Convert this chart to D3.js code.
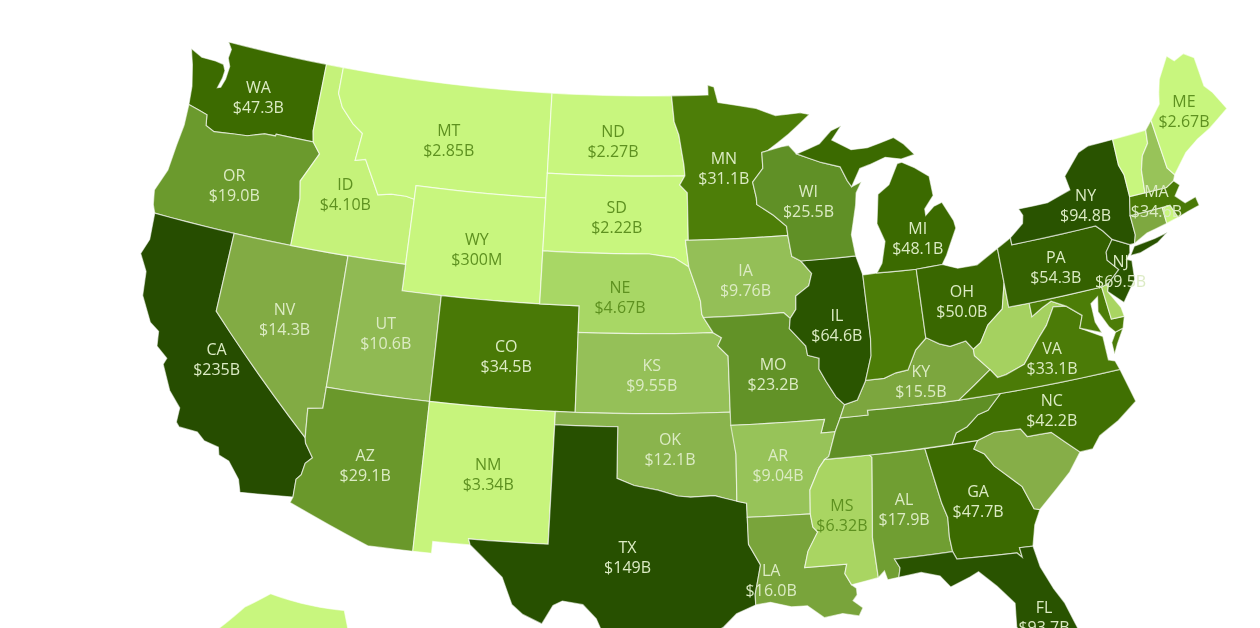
<!DOCTYPE html>
<html>
<head>
<meta charset="utf-8">
<title>US map</title>
<script src="https://cdn.jsdelivr.net/npm/d3@7"></script>
<style>
  html, body { margin: 0; padding: 0; background: #fff; overflow: hidden; }
  svg { filter: blur(0.5px); }
  text { font-family: "Open Sans", sans-serif; font-size: 16px; text-anchor: middle; }
</style>
</head>
<body>
<div id="chart"></div>
<script>
const stateCodes = ["WA","OR","CA","NV","ID","MT","WY","UT","CO","AZ","NM","ND","SD","NE","KS","OK","TX","MN","IA","MO","AR","LA","MS","AL","GA","FL","SC","NC","TN","KY","IL","IN","WI","MI","OH","WV","VA","MD","DE","PA","NJ","NY","CT","RI","MA","VT","NH","ME","AK"];
const stateValues = [47.3,19.0,235,14.3,4.10,2.85,0.30,10.6,34.5,29.1,3.34,2.27,2.22,4.67,9.55,12.1,149,31.1,9.76,23.2,9.04,16.0,6.32,17.9,47.7,93.7,13.5,42.2,25.0,15.5,64.6,32.0,25.5,48.1,50.0,6.8,33.1,32.0,6.0,54.3,69.5,94.8,15.0,3.0,34.6,2.5,9.0,2.67,2.6];
const valueLabels = ["$47.3B","$19.0B","$235B","$14.3B","$4.10B","$2.85B","$300M","$10.6B","$34.5B","$29.1B","$3.34B","$2.27B","$2.22B","$4.67B","$9.55B","$12.1B","$149B","$31.1B","$9.76B","$23.2B","$9.04B","$16.0B","$6.32B","$17.9B","$47.7B","$93.7B","","$42.2B","","$15.5B","$64.6B","","$25.5B","$48.1B","$50.0B","","$33.1B","","","$54.3B","$69.5B","$94.8B","","","$34.6B","","","$2.67B",""];

// colour stops, value in $B
const colorValues = [2.8, 4.2, 4.6, 6.3, 9.5, 14, 19, 25, 29.1, 30.5, 48, 65, 235];
const colorStops = ["#c8f67e","#c5f27a","#a8d765","#a9d562","#95c058","#84ac46","#6b9a2d","#5f8f25","#6a982b","#4e7f08","#3b6a00","#2a5500","#264d00"];

// label shift from the state's centroid
const labelNudge = {
  WA:[0,5], OR:[-1,6], CA:[1,0], NV:[0,3], ID:[-2,3], MT:[0,6], WY:[1,5], UT:[2,1], CO:[0,2], AZ:[0,0],
  NM:[3,-1], ND:[-1,6], SD:[0,3], NE:[-4,6], KS:[0,3], OK:[-1,0], TX:[-4,-3], MN:[-3,4], IA:[-1,5], MO:[0,2],
  AR:[-1,1], LA:[-26,13], MS:[-2,-1], AL:[-2,0], GA:[-3,-1], FL:[24,14], NC:[-6,1], KY:[-2,2], IL:[1,2], WI:[0,-1],
  MI:[21,35], OH:[1,2], VA:[-2,2], PA:[0,3], NY:[-1,4], NJ:[0,3], MA:[-5,1], ME:[1,3]
};

// state outlines in lon/lat
const stateOutlines = {
  WA: [[[-124.7,48.38],[-124.4,47.8],[-124.1,47.0],[-124.0,46.3],[-123.4,46.2],[-122.9,46.1],[-122.8,45.7],[-122.3,45.55],[-121.2,45.65],[-120.5,45.7],[-119.6,45.92],[-119.0,45.93],[-118.98,46.0],[-116.92,46.0],[-117.04,46.4],[-117.03,49.0],[-122.76,49.0],[-122.5,48.75],[-122.55,48.4],[-122.35,48.1],[-122.4,47.6],[-122.55,47.25],[-122.72,47.2],[-122.58,47.6],[-122.55,47.9],[-122.72,48.12],[-123.2,48.17],[-124.0,48.17]]],
  OR: [[[-124.0,46.3],[-123.4,46.2],[-122.9,46.1],[-122.8,45.7],[-122.3,45.55],[-121.2,45.65],[-120.5,45.7],[-119.6,45.92],[-119.0,45.93],[-118.98,46.0],[-116.92,46.0],[-116.46,45.6],[-116.85,45.0],[-117.2,44.45],[-117.03,43.8],[-117.03,42.0],[-124.21,42.0],[-124.4,42.3],[-124.55,42.84],[-124.15,43.7],[-124.06,44.7],[-123.95,45.5]]],
  CA: [[[-124.21,42.0],[-120.0,42.0],[-120.0,39.0],[-114.63,35.0],[-114.57,34.8],[-114.14,34.3],[-114.43,34.05],[-114.52,33.6],[-114.72,33.4],[-114.72,32.72],[-117.12,32.53],[-117.3,33.0],[-117.9,33.6],[-118.4,33.75],[-118.5,34.03],[-119.2,34.15],[-119.6,34.42],[-120.47,34.45],[-120.65,34.6],[-120.65,35.15],[-121.3,35.7],[-121.9,36.6],[-121.8,36.85],[-122.4,37.2],[-122.5,37.75],[-123.0,38.0],[-123.7,38.9],[-123.85,39.8],[-124.35,40.4],[-124.1,41.0]]],
  NV: [[[-120,42],[-114.04,42],[-114.04,36.2],[-114.74,36.1],[-114.63,35.0],[-120,39]]],
  ID: [[[-117.03,49],[-116.05,49],[-116.05,48.0],[-115.7,47.5],[-114.95,46.95],[-114.35,46.65],[-114.5,45.6],[-113.95,45.7],[-113.45,45.05],[-113.0,44.45],[-112.3,44.55],[-111.5,44.55],[-111.05,44.48],[-111.05,42.0],[-117.03,42],[-117.03,43.8],[-117.2,44.45],[-116.85,45.0],[-116.46,45.6],[-116.92,46.0],[-117.04,46.4]]],
  MT: [[[-116.05,49],[-104.05,49],[-104.05,45],[-111.05,45],[-111.05,44.48],[-111.5,44.55],[-112.3,44.55],[-113.0,44.45],[-113.45,45.05],[-113.95,45.7],[-114.5,45.6],[-114.35,46.65],[-114.95,46.95],[-115.7,47.5],[-116.05,48]]],
  WY: [[[-111.05,45],[-104.05,45],[-104.05,41],[-111.05,41]]],
  UT: [[[-114.04,42],[-111.05,42],[-111.05,41],[-109.05,41],[-109.05,37],[-114.04,37]]],
  CO: [[[-109.05,41],[-102.05,41],[-102.05,37],[-109.05,37]]],
  AZ: [[[-114.04,37],[-109.05,37],[-109.05,31.33],[-111.07,31.33],[-114.81,32.5],[-114.72,32.72],[-114.72,33.4],[-114.52,33.6],[-114.43,34.05],[-114.14,34.3],[-114.57,34.8],[-114.63,35.0],[-114.74,36.1],[-114.04,36.2]]],
  NM: [[[-109.05,37],[-103.0,37],[-103.04,32],[-106.62,32],[-106.53,31.78],[-108.21,31.78],[-108.21,31.33],[-109.05,31.33]]],
  ND: [[[-104.05,49],[-97.23,49],[-97.1,48.0],[-96.85,47.5],[-96.6,46.35],[-96.56,45.94],[-104.05,45.94]]],
  SD: [[[-104.05,45.94],[-96.56,45.94],[-96.85,45.6],[-96.45,45.3],[-96.45,43.5],[-96.6,43.5],[-96.45,42.49],[-97.2,42.85],[-98.5,43.0],[-104.05,43]]],
  NE: [[[-104.05,43],[-98.5,43],[-97.2,42.85],[-96.45,42.49],[-96.1,41.7],[-95.9,41.2],[-95.85,40.7],[-95.77,40.58],[-95.31,40],[-102.05,40],[-102.05,41],[-104.05,41]]],
  KS: [[[-102.05,40],[-95.31,40],[-94.9,39.8],[-95.1,39.5],[-94.61,39.1],[-94.62,37],[-102.05,37]]],
  OK: [[[-103.0,37],[-94.62,37],[-94.43,35.4],[-94.48,33.64],[-95.5,33.88],[-96.6,33.85],[-97.2,33.9],[-98.1,34.13],[-99.2,34.3],[-100.0,34.56],[-100.0,36.5],[-103.0,36.5]]],
  TX: [[[-106.62,32],[-103.04,32],[-103.0,36.5],[-100,36.5],[-100,34.56],[-99.2,34.3],[-98.1,34.13],[-97.2,33.9],[-96.6,33.85],[-95.5,33.88],[-94.48,33.64],[-94.04,33.55],[-94.04,33.02],[-94.04,32.0],[-93.55,31.2],[-93.85,30.1],[-93.85,29.7],[-94.7,29.4],[-95.3,28.9],[-96.4,28.4],[-97.1,27.8],[-97.4,27.3],[-97.15,25.96],[-98.2,26.05],[-99.1,26.4],[-99.5,27.5],[-100.3,28.3],[-100.8,29.25],[-101.4,29.77],[-102.3,29.88],[-102.7,29.7],[-103.15,28.98],[-104.0,29.3],[-104.5,29.65],[-105.0,30.65],[-106.0,31.4],[-106.53,31.78]]],
  MN: [[[-97.23,49],[-95.15,49],[-95.15,49.38],[-94.8,49.3],[-94.6,48.7],[-93.5,48.55],[-92.5,48.4],[-91.4,48.07],[-90.0,48.1],[-89.5,48.0],[-90.8,47.3],[-92.0,46.75],[-92.3,46.7],[-92.3,46.1],[-92.9,45.6],[-92.75,45.0],[-92.75,44.75],[-91.9,44.3],[-91.25,43.85],[-91.22,43.5],[-96.45,43.5],[-96.45,45.3],[-96.85,45.6],[-96.56,45.94],[-96.6,46.35],[-96.85,47.5],[-97.1,48.0]]],
  IA: [[[-96.6,43.5],[-91.22,43.5],[-91.1,42.7],[-90.65,42.5],[-90.15,42.0],[-90.35,41.55],[-91.05,41.2],[-91.1,40.7],[-91.42,40.38],[-91.73,40.61],[-95.77,40.58],[-95.85,40.7],[-95.9,41.2],[-96.1,41.7],[-96.45,42.49]]],
  MO: [[[-95.77,40.58],[-91.73,40.61],[-91.42,40.38],[-91.5,40.0],[-90.75,39.3],[-90.7,38.95],[-90.15,38.8],[-90.2,38.4],[-89.9,37.9],[-89.5,37.3],[-89.13,36.98],[-89.4,36.5],[-89.7,36.0],[-90.37,36.0],[-90.15,36.5],[-94.62,36.5],[-94.62,37],[-94.61,39.1],[-95.1,39.5],[-94.9,39.8],[-95.31,40]]],
  AR: [[[-94.62,36.5],[-90.15,36.5],[-90.37,36],[-89.7,36],[-90.1,35.1],[-90.3,35.0],[-90.6,34.7],[-91.1,33.9],[-91.17,33.0],[-94.04,33.02],[-94.04,33.55],[-94.48,33.64],[-94.43,35.4]]],
  LA: [[[-94.04,33.02],[-91.17,33.0],[-91.1,32.5],[-90.9,32.3],[-91.4,31.6],[-91.6,31.0],[-89.73,31.0],[-89.85,30.65],[-89.6,30.2],[-89.4,30.05],[-89.4,29.8],[-89.6,29.6],[-89.2,29.3],[-89.4,29.0],[-90.1,29.15],[-90.9,29.05],[-91.6,29.55],[-92.3,29.55],[-93.2,29.77],[-93.85,29.7],[-93.85,30.1],[-93.55,31.2],[-94.04,32]]],
  MS: [[[-90.3,35.0],[-88.2,35.0],[-88.1,34.9],[-88.47,31.9],[-88.4,30.37],[-89.6,30.2],[-89.85,30.65],[-89.73,31.0],[-91.6,31.0],[-91.4,31.6],[-90.9,32.3],[-91.1,32.5],[-91.17,33],[-91.1,33.9],[-90.6,34.7]]],
  AL: [[[-88.2,35],[-85.6,34.98],[-85.18,32.87],[-85.0,32.3],[-85.05,31.55],[-85.0,31.0],[-87.6,31.0],[-87.4,30.65],[-87.5,30.3],[-88.0,30.25],[-88.1,30.6],[-88.4,30.37],[-88.47,31.9],[-88.1,34.9]]],
  GA: [[[-85.6,34.98],[-83.1,35.0],[-83.35,34.7],[-82.9,34.45],[-82.55,33.95],[-81.9,33.4],[-81.45,33.0],[-81.1,32.1],[-80.85,32.03],[-81.2,31.5],[-81.45,30.72],[-82.05,30.75],[-82.0,30.37],[-82.2,30.57],[-84.86,30.7],[-85.0,31.0],[-85.05,31.55],[-85.0,32.3],[-85.18,32.87]]],
  FL: [[[-87.6,31],[-85.0,31],[-84.86,30.7],[-82.2,30.57],[-82.0,30.37],[-82.05,30.75],[-81.45,30.72],[-81.3,29.9],[-80.9,29.0],[-80.55,28.4],[-80.05,26.9],[-80.15,25.75],[-80.4,25.2],[-81.1,25.15],[-81.75,25.95],[-82.2,26.9],[-82.75,27.8],[-82.65,28.7],[-83.3,29.45],[-84.0,30.1],[-84.4,29.95],[-85.3,29.68],[-85.7,30.15],[-86.5,30.38],[-87.5,30.3],[-87.4,30.65]]],
  SC: [[[-83.1,35],[-82.3,35.2],[-81.05,35.15],[-80.8,34.82],[-79.67,34.8],[-78.55,33.86],[-79.2,33.2],[-79.9,32.7],[-80.85,32.03],[-81.1,32.1],[-81.45,33],[-81.9,33.4],[-82.55,33.95],[-82.9,34.45],[-83.35,34.7]]],
  NC: [[[-81.68,36.59],[-75.87,36.55],[-75.5,35.25],[-76.5,34.7],[-77.5,34.3],[-77.95,33.87],[-78.55,33.86],[-79.67,34.8],[-80.8,34.82],[-81.05,35.15],[-82.3,35.2],[-83.1,35],[-84.32,35],[-84.05,35.4],[-83.5,35.57],[-82.9,35.95],[-82.4,36.05]]],
  TN: [[[-90.3,35],[-84.32,35],[-84.05,35.4],[-83.5,35.57],[-82.9,35.95],[-82.4,36.05],[-81.68,36.59],[-83.68,36.6],[-88.07,36.68],[-88.07,36.5],[-89.4,36.5],[-89.7,36],[-90.1,35.1]]],
  KY: [[[-89.13,36.98],[-88.5,37.1],[-88.0,37.8],[-87.1,37.8],[-86.5,37.95],[-85.9,38.0],[-85.4,38.7],[-84.8,39.1],[-84.2,38.8],[-83.7,38.65],[-82.9,38.75],[-82.6,38.4],[-82.6,38.15],[-81.97,37.54],[-83.68,36.6],[-88.07,36.68],[-88.07,36.5],[-89.4,36.5]]],
  IL: [[[-90.65,42.5],[-87.8,42.49],[-87.55,41.75],[-87.53,39.35],[-87.6,38.7],[-88.0,37.8],[-88.5,37.1],[-89.13,36.98],[-89.5,37.3],[-89.9,37.9],[-90.2,38.4],[-90.15,38.8],[-90.7,38.95],[-90.75,39.3],[-91.5,40],[-91.42,40.38],[-91.1,40.7],[-91.05,41.2],[-90.35,41.55],[-90.15,42]]],
  IN: [[[-87.55,41.75],[-87.2,41.75],[-86.82,41.76],[-84.8,41.7],[-84.82,39.1],[-84.8,39.1],[-85.4,38.7],[-85.9,38],[-86.5,37.95],[-87.1,37.8],[-88,37.8],[-87.6,38.7],[-87.53,39.35]]],
  WI: [[[-92.0,46.75],[-91.2,46.87],[-90.8,46.9],[-90.4,46.55],[-89.1,46.14],[-88.1,45.9],[-87.8,45.35],[-87.6,45.1],[-87.05,45.25],[-87.4,44.85],[-87.5,44.4],[-87.9,43.3],[-87.8,42.49],[-90.65,42.5],[-91.1,42.7],[-91.22,43.5],[-91.25,43.85],[-91.9,44.3],[-92.75,44.75],[-92.75,45],[-92.9,45.6],[-92.3,46.1],[-92.3,46.7]]],
  MI: [
    [[-86.82,41.76],[-86.5,42.1],[-86.2,42.9],[-86.5,43.6],[-86.25,44.7],[-85.6,45.0],[-85.0,45.75],[-84.75,45.78],[-84.1,45.5],[-83.4,45.1],[-83.35,44.35],[-83.9,43.9],[-83.9,43.65],[-83.4,43.95],[-82.95,44.05],[-82.5,43.3],[-82.45,43.0],[-82.9,42.4],[-83.15,42.05],[-83.45,41.73],[-84.8,41.7]],
    [[-90.4,46.55],[-89.1,46.85],[-88.4,47.3],[-87.8,47.45],[-88.4,46.95],[-87.4,46.5],[-86.5,46.5],[-85.0,46.75],[-84.5,46.45],[-84.0,46.0],[-84.75,45.9],[-85.6,46.05],[-86.5,45.85],[-87.05,45.75],[-87.6,45.1],[-87.8,45.35],[-88.1,45.9],[-89.1,46.14]]
  ],
  OH: [[[-84.8,41.7],[-83.45,41.73],[-82.7,41.5],[-81.7,41.5],[-80.52,41.97],[-80.52,40.64],[-80.85,39.7],[-81.7,39.2],[-82.2,38.6],[-82.6,38.4],[-82.9,38.75],[-83.7,38.65],[-84.2,38.8],[-84.8,39.1],[-84.82,39.1]]],
  WV: [[[-80.52,40.64],[-80.52,39.72],[-79.48,39.72],[-79.48,39.2],[-78.9,39.45],[-78.4,39.62],[-77.72,39.32],[-78.35,39.4],[-78.87,38.77],[-79.3,38.42],[-80.3,37.5],[-81.25,37.25],[-81.68,37.2],[-81.97,37.54],[-82.6,38.15],[-82.6,38.4],[-82.2,38.6],[-81.7,39.2],[-80.85,39.7]]],
  VA: [
    [[-83.68,36.6],[-81.97,37.54],[-81.68,37.2],[-81.25,37.25],[-80.3,37.5],[-79.3,38.42],[-78.87,38.77],[-78.35,39.4],[-77.72,39.32],[-77.05,38.85],[-77.3,38.4],[-76.3,37.9],[-76.3,37.0],[-76.0,36.9],[-75.87,36.55],[-81.68,36.59]],
    [[-75.65,37.95],[-75.25,38.03],[-75.7,37.5],[-75.95,37.15],[-75.95,37.6]]
  ],
  MD: [[[-79.48,39.72],[-75.79,39.72],[-75.7,38.46],[-75.05,38.45],[-75.25,38.03],[-75.65,37.95],[-75.9,38.2],[-76.25,38.85],[-76.1,39.4],[-76.5,39.2],[-76.5,38.5],[-76.3,38.05],[-77.3,38.4],[-77.05,38.85],[-77.72,39.32],[-78.4,39.62],[-78.9,39.45],[-79.48,39.2]]],
  DE: [[[-75.79,39.72],[-75.4,39.8],[-75.55,39.5],[-75.1,38.8],[-75.05,38.45],[-75.7,38.46]]],
  PA: [[[-80.52,41.97],[-79.76,42.27],[-79.76,42.0],[-75.35,42.0],[-75.05,41.75],[-74.7,41.36],[-75.15,40.95],[-75.2,40.65],[-74.75,40.2],[-75.4,39.8],[-75.79,39.72],[-80.52,39.72]]],
  NJ: [[[-74.7,41.36],[-73.9,41.0],[-74.0,40.7],[-74.25,40.5],[-74.0,40.4],[-74.1,39.7],[-74.9,38.95],[-75.55,39.5],[-75.4,39.8],[-74.75,40.2],[-75.2,40.65],[-75.15,40.95]]],
  NY: [
    [[-79.76,42.27],[-79.0,42.7],[-78.9,43.0],[-79.05,43.27],[-77.5,43.27],[-76.2,43.55],[-76.3,44.1],[-75.3,44.85],[-74.7,45.0],[-73.35,45.0],[-73.4,44.0],[-73.25,43.6],[-73.27,42.75],[-73.5,42.05],[-73.5,41.3],[-73.65,41.0],[-73.9,41.0],[-74.7,41.36],[-75.05,41.75],[-75.35,42.0],[-79.76,42.0]],
    [[-74.0,40.6],[-73.7,40.9],[-72.6,40.98],[-71.9,41.07],[-72.5,40.8],[-73.5,40.6]]
  ],
  CT: [[[-73.5,42.05],[-71.8,42.02],[-71.8,41.4],[-72.9,41.25],[-73.65,41.0],[-73.5,41.3]]],
  RI: [[[-71.8,42.02],[-71.38,42.02],[-71.15,41.5],[-71.8,41.4]]],
  MA: [[[-73.27,42.75],[-71.3,42.7],[-70.85,42.87],[-70.6,42.65],[-71.0,42.3],[-70.6,41.95],[-70.0,42.05],[-69.95,41.7],[-70.6,41.6],[-71.15,41.5],[-71.38,42.02],[-73.5,42.05]]],
  VT: [[[-73.35,45],[-71.5,45.0],[-71.6,44.5],[-72.05,44.1],[-72.3,43.6],[-72.45,42.73],[-73.27,42.75],[-73.25,43.6],[-73.4,44]]],
  NH: [[[-71.5,45],[-71.08,45.3],[-70.98,43.4],[-70.7,43.07],[-70.85,42.87],[-71.3,42.7],[-72.45,42.73],[-72.3,43.6],[-72.05,44.1],[-71.6,44.5]]],
  ME: [[[-71.08,45.3],[-70.4,45.8],[-70.25,46.2],[-70.0,46.7],[-69.23,47.46],[-68.9,47.2],[-68.3,47.35],[-67.8,47.07],[-67.78,45.94],[-67.45,45.6],[-67.0,44.85],[-68.2,44.35],[-69.0,44.1],[-69.8,43.75],[-70.7,43.07],[-70.98,43.4]]],
  AK: [[[-141,69.65],[-148,70.4],[-156.6,71.35],[-162,70.2],[-166.5,68.35],[-163,67],[-162,66.2],[-165,66.4],[-168,65.6],[-161,64.5],[-165,63.7],[-165.5,61.5],[-162,59.9],[-157,58.8],[-158.5,56.5],[-163,54.9],[-155,57.8],[-152,59.2],[-150,60],[-146,60.8],[-141,60]]]
};

const w = 1260;
const h = 628;

// edges must follow the graticule, not the great circle
function densify(ring) {
  const out = [];
  ring.forEach((p, i) => {
    const q = ring[(i + 1) % ring.length];
    const n = Math.ceil(Math.max(Math.abs(q[0] - p[0]), Math.abs(q[1] - p[1])));
    for (let k = 0; k < n; k++) {
      out.push([p[0] + (q[0] - p[0]) * k / n, p[1] + (q[1] - p[1]) * k / n]);
    }
  });
  out.push(out[0]);
  return out;
}

function toFeature(code) {
  const polys = stateOutlines[code].map((ring) => {
    let dense = densify(ring);
    if (d3.geoArea({ type: "Polygon", coordinates: [dense] }) > 2 * Math.PI) dense = dense.reverse();
    return [dense];
  });
  return { type: "Feature", id: code, geometry: { type: "MultiPolygon", coordinates: polys } };
}

const rows = stateCodes.map((code, i) => ({
  code,
  value: stateValues[i],
  label: valueLabels[i],
  feature: toFeature(code),
}));

const projection = d3.geoAlbers().scale(1512).angle(1.5).translate([688, 368]);
const akProjection = d3.geoConicEqualArea()
  .rotate([154, 0]).center([-2, 58.5]).parallels([55, 65])
  .scale(780).translate([268, 768]);
const path = d3.geoPath(projection);
const akPath = d3.geoPath(akProjection);
const pathFor = (d) => (d.code === "AK" ? akPath : path);

const color = d3.scaleLog().domain(colorValues).range(colorStops).clamp(true);

const svg = d3.select("#chart").append("svg").attr("width", w).attr("height", h);

svg.append("g")
  .selectAll("path")
  .data(rows)
  .enter()
  .append("path")
  .attr("d", (d) => pathFor(d)(d.feature))
  .attr("fill", (d) => color(d.value))
  .attr("stroke", "#fff")
  .attr("stroke-opacity", 0.6)
  .attr("stroke-width", 1.2);

const labels = svg.append("g")
  .selectAll("text")
  .data(rows.filter((d) => d.label))
  .enter()
  .append("text")
  .attr("fill", (d) => (d.value < 7 ? "#5e9120" : "#dcebc4"))
  .attr("transform", (d) => {
    const c = path.centroid(d.feature);
    const n = labelNudge[d.code] || [0, 0];
    return `translate(${c[0] + n[0]},${c[1] + n[1]})`;
  });

labels.append("tspan").attr("x", 0).attr("y", -5.5).text((d) => d.code);
labels.append("tspan").attr("x", 0).attr("y", 14.5).text((d) => d.label);
</script>
</body>
</html>
